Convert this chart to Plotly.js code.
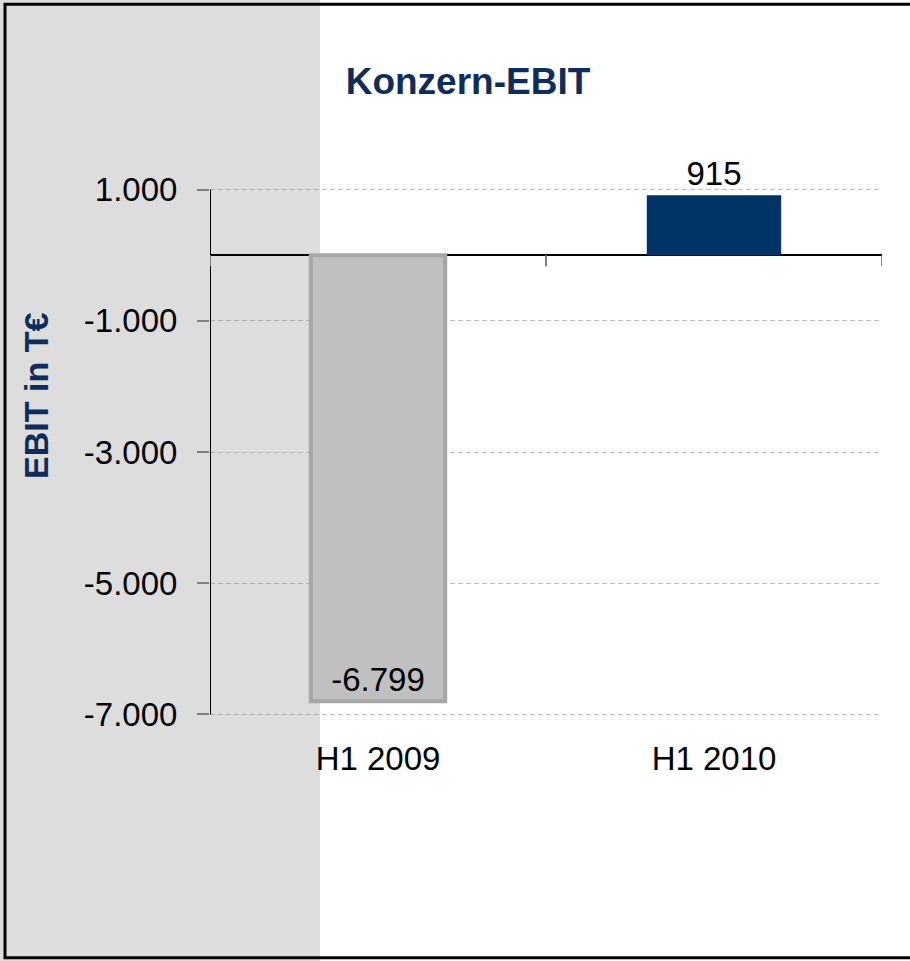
<!DOCTYPE html>
<html>
<head>
<meta charset="utf-8">
<script src="https://cdn.plot.ly/plotly-3.0.1.min.js"></script>
<style>
  html, body { margin: 0; padding: 0; background: #ffffff; }
  #chart {
    width: 910px; height: 961px;
    background: linear-gradient(to right, #dddddd 0px, #dddddd 320px, #ffffff 320px, #ffffff 910px);
  }
</style>
</head>
<body>
<div id="chart"></div>
<script>
// ---- data ----
const categories = ['H1 2009', 'H1 2010'];
const ebitValues = [-6799, 915];
const tickValues = [1000, -1000, -3000, -5000, -7000];
const tickLabels = ['1.000', '-1.000', '-3.000', '-5.000', '-7.000'];
const barColors = ['#c0c0c0', '#003366'];
const barLineColors = ['#a6a6a6', '#003366'];
const barLineWidths = [4, 0];
const boundaries = [-0.5, 0.5, 1.5];

function fmtDE(v) {
  const s = Math.abs(v).toString().replace(/\B(?=(\d{3})+(?!\d))/g, '.');
  return (v < 0 ? '-' : '') + s;
}

// ---- geometry (pixels) ----
const W = 910, H = 961;
const yMin = Math.min(...tickValues), yMax = Math.max(...tickValues);
const pad = 100;                       // range padding so edge gridlines are drawn
const pxPerUnit = 524 / (yMax - yMin);
const L = 210, R = 28;
const T = 190 - pad * pxPerUnit;
const B = 961 - 714 - pad * pxPerUnit;
const pw = W - L - R, ph = H - T - B;
const px2x = p => (p - L) / pw;
const py2y = p => (H - B - p) / ph;

const trace = {
  type: 'bar',
  x: categories,
  y: ebitValues,
  width: 0.4,
  marker: {
    color: barColors,
    line: { color: barLineColors, width: barLineWidths }
  },
  text: ebitValues.map(fmtDE),
  textposition: ['inside', 'outside'],
  insidetextanchor: 'end',
  constraintext: 'none',
  cliponaxis: false,
  textfont: { family: 'Liberation Sans, Arial, sans-serif', size: 33, color: '#000000' },
  hoverinfo: 'skip'
};

const shapes = [
  // outer frame
  { type: 'rect', xref: 'paper', yref: 'paper', layer: 'above',
    x0: px2x(5), x1: px2x(W + 10), y0: py2y(957), y1: py2y(5),
    fillcolor: 'rgba(0,0,0,0)', line: { color: '#000000', width: 3 } },
  // y axis line, spanning the tick range only
  { type: 'line', xref: 'x', yref: 'y', layer: 'above',
    x0: boundaries[0], x1: boundaries[0], y0: yMin, y1: yMax,
    line: { color: '#000000', width: 2 } }
];
boundaries.forEach(b => {
  shapes.push({ type: 'line', xref: 'x', yref: 'y', ysizemode: 'pixel', yanchor: 0,
    x0: b, x1: b, y0: 0, y1: -11, line: { color: '#808080', width: 2 } });
});

const layout = {
  width: W, height: H,
  margin: { l: L, r: R, t: T, b: B, pad: 0 },
  paper_bgcolor: 'rgba(0,0,0,0)',
  plot_bgcolor: 'rgba(0,0,0,0)',
  showlegend: false,
  font: { family: 'Liberation Sans, Arial, sans-serif', color: '#000000' },
  title: {
    text: '<b>Konzern-EBIT</b>',
    font: { family: 'Liberation Sans, Arial, sans-serif', size: 37, color: '#0e2d5c' },
    xref: 'container', yref: 'container',
    x: 468 / W, xanchor: 'center',
    y: 1 - 81 / H, yanchor: 'middle'
  },
  xaxis: {
    type: 'category',
    range: [-0.5, 1.5],
    showgrid: false, zeroline: false, showline: false,
    ticks: 'outside', ticklen: 8, tickcolor: 'rgba(0,0,0,0)',
    tickfont: { size: 33, color: '#000000' },
    fixedrange: true
  },
  yaxis: {
    range: [yMin - pad, yMax + pad],
    tickvals: tickValues,
    ticktext: tickLabels,
    tickfont: { size: 33, color: '#000000' },
    ticks: 'outside', ticklen: 12, tickwidth: 2, tickcolor: '#808080',
    ticklabelstandoff: 13,
    showline: false,
    showgrid: true, gridcolor: 'rgba(130,130,130,0.5)', gridwidth: 1, griddash: '5px,3px',
    zeroline: true, zerolinecolor: '#000000', zerolinewidth: 1.5,
    automargin: false,
    fixedrange: true
  },
  annotations: [
    { text: '<b>EBIT in T€</b>', xref: 'paper', yref: 'paper',
      x: px2x(36), y: py2y(396), xanchor: 'center', yanchor: 'middle',
      textangle: -90, showarrow: false,
      font: { family: 'Liberation Sans, Arial, sans-serif', size: 34, color: '#0e2d5c' } }
  ],
  shapes: shapes,
  bargap: 0.6
};

Plotly.newPlot('chart', [trace], layout, { displayModeBar: false, staticPlot: true });
</script>
</body>
</html>
